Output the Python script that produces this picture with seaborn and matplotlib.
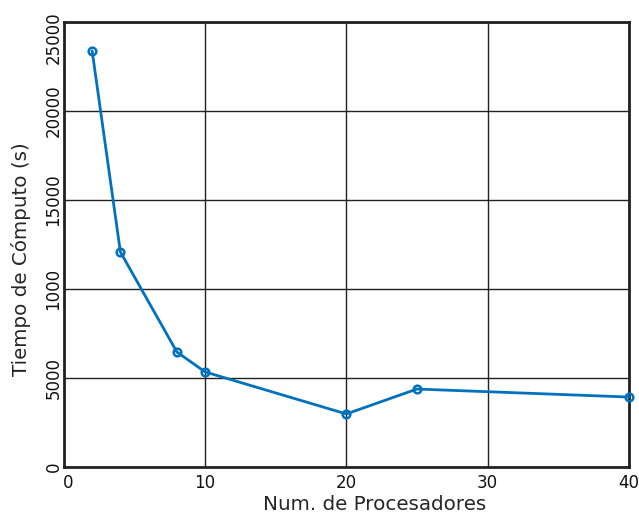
import matplotlib
matplotlib.use("Agg")
import matplotlib.pyplot as plt
import matplotlib.transforms as mtransforms
import seaborn as sns
import pandas as pd

# Número de procesadores y tiempo de cómputo medido
procesadores = [2, 4, 8, 10, 20, 25, 40]
tiempo = [23370, 12080, 6460, 5340, 2980, 4380, 3930]

x_ticks = [0, 10, 20, 30, 40]
y_ticks = [0, 5000, 10000, 15000, 20000, 25000]
y_tick_labels = ["0", "5000", "1000", "15000", "20000", "25000"]

df = pd.DataFrame({"procesadores": procesadores, "tiempo": tiempo})

sns.set_style("white")
plt.rcParams["font.family"] = ["DejaVu Sans"]

fig = plt.figure(figsize=(6.39, 5.14), dpi=100)
ax = fig.add_axes([0.100, 0.0914, 0.884, 0.866])

sns.lineplot(data=df, x="procesadores", y="tiempo", ax=ax,
             color="#0072BD", linewidth=2.0, marker="o", markersize=5.5,
             markerfacecolor="none", markeredgecolor="#0072BD",
             markeredgewidth=1.8, clip_on=False, zorder=3)

ax.set_xlim(0, 40)
ax.set_ylim(0, 25000)
ax.set_xticks(x_ticks)
ax.set_yticks(y_ticks)
ax.set_yticklabels(y_tick_labels, rotation=90, va="center")
ax.tick_params(axis="both", length=0, labelsize=12, colors="#111111")
ax.tick_params(axis="y", pad=1)
ax.tick_params(axis="x", pad=5)

ax.grid(True, color="#222222", linewidth=1.0)
ax.set_axisbelow(True)
for side in ax.spines.values():
    side.set_color("#222222")
    side.set_linewidth(2.0)

ax.set_xlabel("Num. de Procesadores", fontsize=14.3)
ax.set_ylabel("Tiempo de Cómputo (s)", fontsize=14.3)
ax.xaxis.set_label_coords(0.55, -0.062)
ax.yaxis.set_label_coords(-0.058, 0.467)

# keep the end labels inside the figure
ylabels = ax.get_yticklabels()
ylabels[-1].set_transform(ylabels[-1].get_transform() +
                          mtransforms.ScaledTranslation(0, -0.16, fig.dpi_scale_trans))
xlabels = ax.get_xticklabels()
xlabels[0].set_transform(xlabels[0].get_transform() +
                         mtransforms.ScaledTranslation(0.04, 0, fig.dpi_scale_trans))

fig.savefig("out.png", dpi=100)
